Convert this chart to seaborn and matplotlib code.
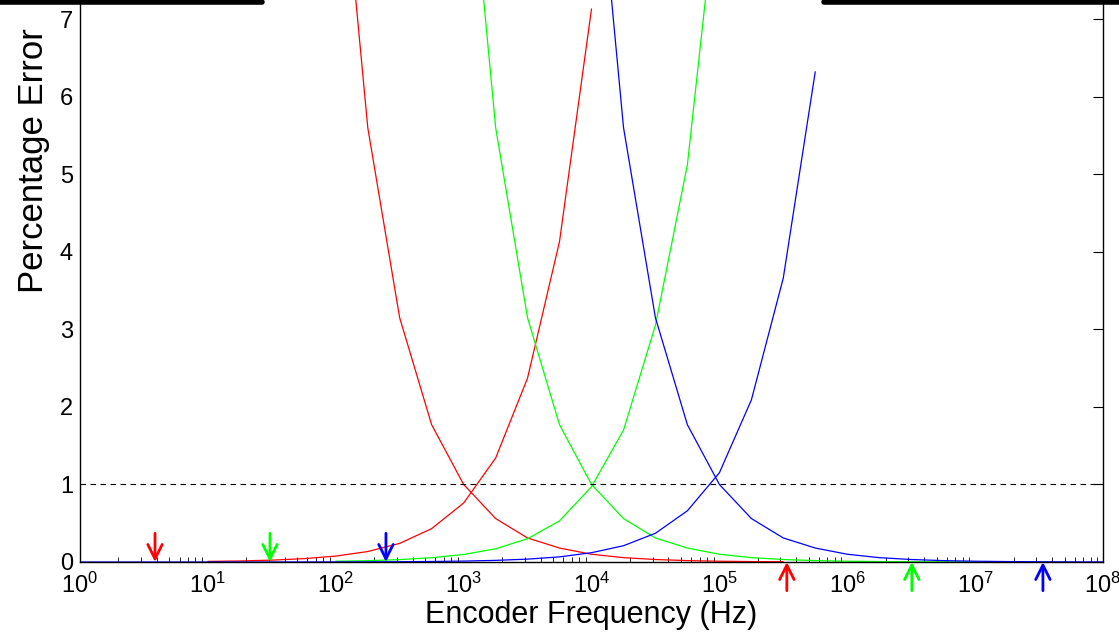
import numpy as np
import pandas as pd
import seaborn as sns
import matplotlib.pyplot as plt
from matplotlib.lines import Line2D
from matplotlib.ticker import LogLocator, NullFormatter, FixedLocator

# ── data ────────────────────────────────────────────────
# frequency grid, quarter-decade steps from 1 Hz to 100 MHz
freq_hz = [1, 1.78, 3.16, 5.62,
           10, 17.8, 31.6, 56.2,
           100, 178, 316, 562,
           1e3, 1.78e3, 3.16e3, 5.62e3,
           1e4, 1.78e4, 3.16e4, 5.62e4,
           1e5, 1.78e5, 3.16e5, 5.62e5,
           1e6, 1.78e6, 3.16e6, 5.62e6,
           1e7, 1.78e7, 3.16e7, 5.62e7,
           1e8]

# rising branches (error grows with frequency)
red_rise_start = 4       # 10 Hz
red_rise = [0.0076, 0.0135, 0.024, 0.043, 0.076, 0.135, 0.24, 0.43,
            0.76, 1.34, 2.37, 4.13, 7.13]
green_rise_start = 8     # 100 Hz
green_rise = [0.0097, 0.017, 0.031, 0.055, 0.097, 0.17, 0.30, 0.53,
              0.97, 1.70, 3.05, 5.12, 8.9]
blue_rise_start = 0      # 1 Hz
blue_rise = [0.000012, 0.000021, 0.000037, 0.000066, 0.00012, 0.00021,
             0.00037, 0.00066, 0.0012, 0.0021, 0.0037, 0.0066, 0.012,
             0.021, 0.037, 0.066, 0.12, 0.21, 0.37, 0.66, 1.15, 2.09,
             3.66, 6.32]

# falling branches (error shrinks with frequency)
red_fall_start = 8       # 100 Hz
red_fall = [10.0, 5.6, 3.15, 1.77, 1.0, 0.56, 0.31, 0.18, 0.1, 0.056,
            0.032, 0.018, 0.01, 0.0056, 0.0032]
green_fall_start = 12    # 1 kHz
green_fall = [10.0, 5.6, 3.15, 1.77, 1.0, 0.56, 0.31, 0.18, 0.1, 0.056,
              0.032, 0.018, 0.01, 0.0056, 0.0032, 0.0018, 0.001]
blue_fall_start = 16     # 10 kHz
blue_fall = [10.0, 5.6, 3.15, 1.77, 1.0, 0.56, 0.31, 0.18, 0.1, 0.056,
             0.032, 0.018, 0.01, 0.0056, 0.0032, 0.0018, 0.001]

# arrow markers (Hz)
low_arrows = [3.86, 30.6, 247]        # red, green, blue (pointing down)
high_arrows = [3.37e5, 3.2e6, 3.39e7]  # red, green, blue (pointing up)
colours = ['#ff0000', '#00ff00', '#0000ff']

threshold = 1.0

# ── build long table ────────────────────────────────────
branches = [
    ('red_rise', red_rise_start, red_rise, colours[0]),
    ('red_fall', red_fall_start, red_fall, colours[0]),
    ('green_rise', green_rise_start, green_rise, colours[1]),
    ('green_fall', green_fall_start, green_fall, colours[1]),
    ('blue_rise', blue_rise_start, blue_rise, colours[2]),
    ('blue_fall', blue_fall_start, blue_fall, colours[2]),
]
rows = []
for name, start, vals, _ in branches:
    for i, v in enumerate(vals):
        rows.append({'branch': name, 'freq': freq_hz[start + i], 'err': v})
df = pd.DataFrame(rows)
palette = {name: c for name, _, _, c in branches}

# ── plot ────────────────────────────────────────────────
sns.set_style('white')
plt.rcParams['font.family'] = ['Liberation Sans', 'DejaVu Sans']
plt.rcParams['mathtext.fontset'] = 'custom'
plt.rcParams['mathtext.rm'] = 'Liberation Sans'
plt.rcParams['mathtext.it'] = 'Liberation Sans:italic'
plt.rcParams['text.color'] = 'black'
plt.rcParams['axes.labelcolor'] = 'black'

fig = plt.figure(figsize=(11.19, 6.33), dpi=100)
ax = fig.add_axes([80 / 1119, 71 / 633, 1023 / 1119, 562 / 633])

sns.lineplot(data=df, x='freq', y='err', hue='branch', palette=palette,
             units='branch', estimator=None, sort=False, legend=False,
             lw=0.9, ax=ax)

ax.axhline(threshold, color='black', lw=0.8, ls=(0, (5, 4)))

ax.set_xscale('log')
ax.set_xlim(1, 1e8)
ax.set_ylim(0, 7.245)

ax.xaxis.set_major_locator(LogLocator(base=10, numticks=20))
ax.xaxis.set_minor_locator(LogLocator(base=10, subs=np.arange(2, 10), numticks=20))
ax.xaxis.set_minor_formatter(NullFormatter())
ax.yaxis.set_major_locator(FixedLocator(range(0, 8)))

ax.tick_params(axis='both', which='major', direction='in', length=7, width=0.8,
               labelsize=17, colors='black', labelcolor='black', top=False, right=True)
ax.tick_params(axis='x', which='major', pad=8)
ax.tick_params(axis='y', which='major', pad=5)
ax.tick_params(axis='x', which='minor', direction='in', length=3.5, width=0.7,
               bottom=True, top=False)

for side in ['left', 'right', 'bottom']:
    ax.spines[side].set_color('black')
    ax.spines[side].set_linewidth(1.0)
ax.spines['top'].set_visible(False)

ax.set_xlabel('Encoder Frequency (Hz)', fontsize=22, labelpad=1)
ax.set_ylabel('Percentage Error', fontsize=25)
ax.yaxis.set_label_coords(-0.029, 0.715)

# arrows marking the usable ranges
for f, c in zip(low_arrows, colours):
    ax.annotate('', xy=(f, 0), xytext=(f, 0.37),
                arrowprops=dict(arrowstyle='->', color=c, lw=2, mutation_scale=26,
                                shrinkA=0, shrinkB=0),
                annotation_clip=False)
for f, c in zip(high_arrows, colours):
    ax.annotate('', xy=(f, 0), xytext=(f, -0.37),
                arrowprops=dict(arrowstyle='->', color=c, lw=2, mutation_scale=26,
                                shrinkA=0, shrinkB=0),
                annotation_clip=False)

# thick border remnants along the top edge
fig.add_artist(Line2D([0, 262 / 1119], [0.997, 0.997], color='black', lw=4,
                      transform=fig.transFigure))
fig.add_artist(Line2D([824 / 1119, 1], [0.997, 0.997], color='black', lw=4,
                      transform=fig.transFigure))

fig.savefig('out.png', dpi=100)
